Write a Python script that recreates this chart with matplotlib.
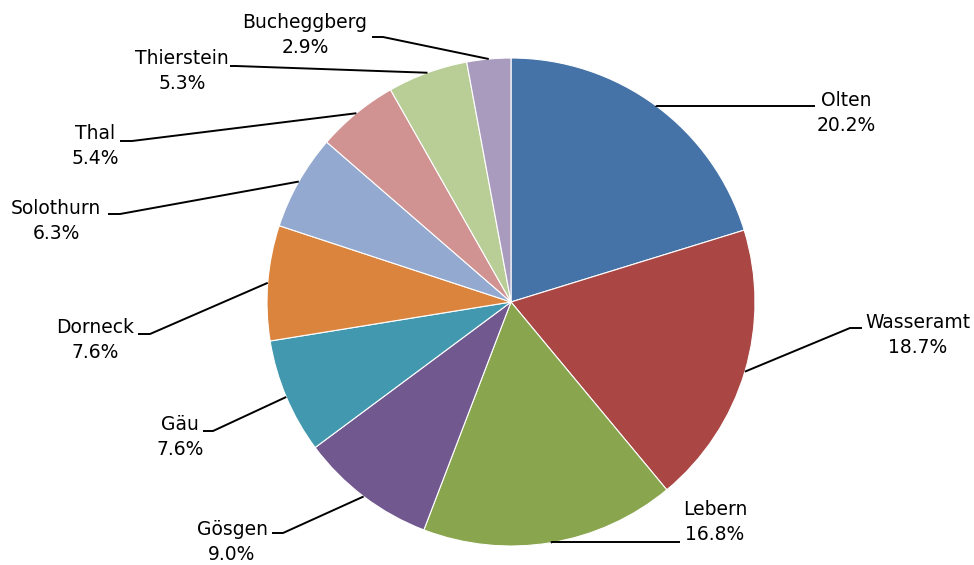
import matplotlib
matplotlib.use("Agg")
import matplotlib.pyplot as plt
import numpy as np

districts = ["Olten", "Wasseramt", "Lebern", "Gösgen", "Gäu", "Dorneck",
             "Solothurn", "Thal", "Thierstein", "Bucheggberg"]
shares = [20.2, 18.7, 16.8, 9.0, 7.6, 7.6, 6.3, 5.4, 5.3, 2.9]
colors = ["#4572A7", "#AA4643", "#89A54E", "#71588F", "#4198AF",
          "#DB843D", "#93A9CF", "#D19392", "#B9CD96", "#A99BBD"]

W, H = 974, 565
fig = plt.figure(figsize=(W / 100, H / 100), dpi=100)
ax = fig.add_axes([0, 0, 1, 1])

cx, cy, r = 511, H - 302, 244
wedges, _ = ax.pie(shares, colors=colors, startangle=90, counterclock=False,
                   center=(cx, cy), radius=r, frame=True,
                   wedgeprops=dict(edgecolor="white", linewidth=0.8))
ax.set_xlim(0, W)
ax.set_ylim(0, H)
ax.set_aspect("equal")
ax.axis("off")

# label layout: text centre, elbow point, end of horizontal stub (pixel space, y down)
layout = {
    "Olten":       ((846, 113), (656, 106), (815, 106)),
    "Wasseramt":   ((918, 335), (850, 328), (862, 328)),
    "Lebern":      ((715, 522), (552, 542), (680, 542)),
    "Gösgen":      ((232, 542), (283, 533), (272, 533)),
    "Gäu":         ((180, 437), (213, 431), (203, 431)),
    "Dorneck":     ((95, 340), (150, 334), (138, 334)),
    "Solothurn":   ((56, 221), (120, 214), (108, 214)),
    "Thal":        ((95, 146), (132, 141), (120, 141)),
    "Thierstein":  ((182, 71), (236, 66), (230, 66)),
    "Bucheggberg": ((305, 35), (383, 37), (372, 37)),
}

for w, name, val in zip(wedges, districts, shares):
    mid = np.deg2rad((w.theta1 + w.theta2) / 2)
    ex, ey = cx + r * np.cos(mid), cy + r * np.sin(mid)
    (tx, ty), (bx, by), (hx, hy) = layout[name]
    ax.plot([ex, bx, hx], [ey, H - by, H - hy], color="black",
            linewidth=1.4, solid_capstyle="butt")
    ax.text(tx, H - ty, f"{name}\n{val:.1f}%", ha="center", va="center",
            fontsize=13.5, family="DejaVu Sans", linespacing=1.4, color="black")

fig.savefig("out.png", dpi=100)
